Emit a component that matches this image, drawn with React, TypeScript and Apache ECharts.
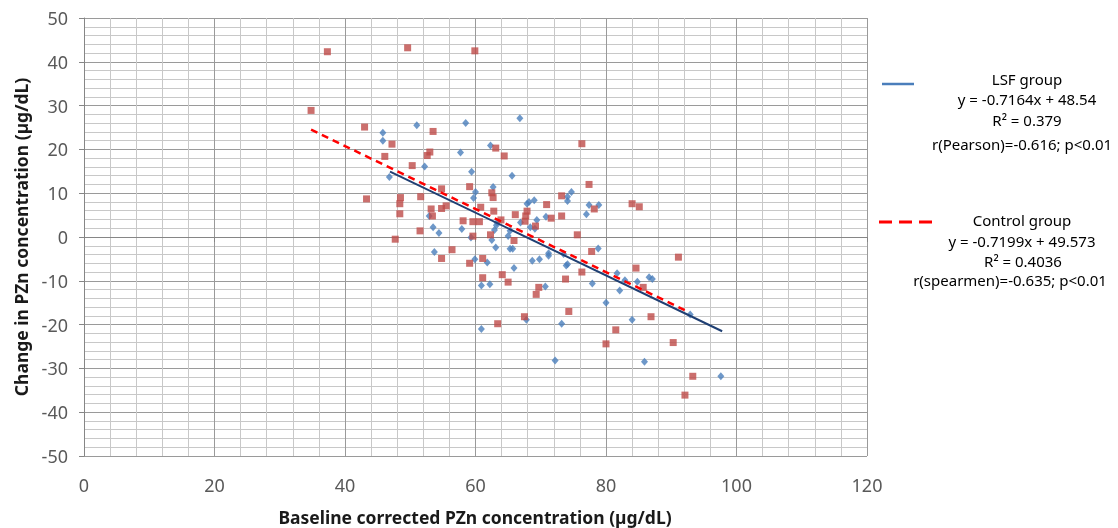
import React, { useEffect, useRef } from "react";
import * as echarts from "echarts";

// LSF group (blue diamonds): baseline PZn, change in PZn
const lsfX = [45.8, 45.8, 46.8, 51.0, 58.5, 66.8, 57.7, 62.3, 52.2, 59.4, 65.6, 62.7, 60.0, 59.7, 52.9, 63.3, 67.9, 68.2, 69.0, 74.7, 74.1, 74.1, 70.8, 69.4, 66.9, 68.4, 69.1, 53.5, 54.4, 57.9, 59.3, 62.5, 62.9, 63.2, 65.0, 65.3, 63.1, 65.3, 65.7, 53.7, 59.9, 61.8, 60.9, 62.2, 65.9, 68.7, 69.8, 71.2, 71.2, 70.7, 67.8, 60.9, 73.2, 72.2, 73.9, 74.1, 73.5, 77.4, 78.9, 77.0, 78.8, 77.9, 80.0, 81.7, 82.1, 82.9, 84.8, 86.6, 87.1, 92.9, 84.0, 85.9, 97.6];
const lsfY = [23.8, 22.0, 13.7, 25.5, 26.0, 27.1, 19.3, 20.9, 16.1, 14.9, 14.0, 11.4, 10.3, 8.9, 4.8, 3.3, 7.6, 8.0, 8.4, 10.3, 9.2, 8.2, 4.6, 3.9, 3.3, 2.2, 1.9, 2.2, 0.9, 1.8, -0.1, -0.7, 1.6, 2.7, 0.2, 1.4, -2.4, -2.7, -2.7, -3.4, -5.1, -5.8, -11.1, -10.8, -7.1, -5.4, -5.1, -4.3, -3.7, -11.3, -18.9, -21.0, -19.8, -28.2, -6.5, -6.2, -3.9, 7.3, 7.3, 5.2, -2.6, -10.6, -15.0, -8.3, -12.2, -9.9, -10.2, -9.2, -9.6, -17.7, -18.9, -28.5, -31.8];

// Control group (red squares)
const ctrlX = [34.8, 37.3, 43.0, 47.2, 46.1, 43.3, 47.7, 49.6, 59.9, 53.5, 63.1, 53.0, 52.6, 64.4, 50.3, 59.1, 54.8, 62.5, 62.7, 48.5, 48.4, 51.6, 48.4, 53.2, 54.8, 55.5, 53.4, 60.8, 62.8, 58.1, 59.6, 60.6, 63.9, 66.1, 67.9, 67.7, 67.6, 70.9, 73.2, 71.6, 73.2, 69.2, 75.6, 51.5, 59.6, 62.3, 65.9, 56.4, 54.8, 59.1, 61.1, 61.1, 64.1, 65.0, 69.7, 69.3, 67.5, 63.4, 74.3, 73.8, 76.3, 77.4, 78.2, 84.0, 85.1, 77.8, 76.3, 84.6, 85.7, 91.1, 86.9, 81.5, 80.0, 90.3, 93.3, 92.1];
const ctrlY = [28.9, 42.3, 25.1, 21.2, 18.4, 8.7, -0.5, 43.2, 42.5, 24.1, 20.3, 19.4, 18.6, 18.5, 16.3, 11.5, 11.0, 10.1, 9.0, 9.0, 7.6, 9.2, 5.3, 6.4, 6.5, 7.1, 4.8, 6.8, 5.9, 3.7, 3.5, 3.5, 3.9, 5.1, 5.9, 4.8, 3.6, 7.4, 9.4, 4.3, 4.8, 2.5, 0.5, 1.4, 0.2, 0.5, -0.8, -2.9, -4.9, -6.0, -4.9, -9.3, -8.6, -10.3, -11.5, -13.1, -18.2, -19.8, -17.0, -9.6, 21.3, 12.0, 6.4, 7.6, 6.9, -3.3, -8.0, -7.1, -11.5, -4.6, -18.2, -21.2, -24.4, -24.1, -31.8, -36.1];

// Trendlines (slope, intercept) and fitted x ranges
const lsfFit = [-0.7164, 48.54];
const lsfRange = [46.9, 97.8];
const ctrlFit = [-0.7199, 49.573];
const ctrlRange = [34.8, 92.1];

const xTicks = [0, 20, 40, 60, 80, 100, 120];
const yTicks = [-50, -40, -30, -20, -10, 0, 10, 20, 30, 40, 50];

const lsfLegend = ["LSF group", "y = -0.7164x + 48.54", "R² = 0.379", "r(Pearson)=-0.616; p<0.01"];
const ctrlLegend = ["Control group", "y = -0.7199x + 49.573", "R² = 0.4036", "r(spearmen)=-0.635; p<0.01"];

const FONT = "Noto Sans";

export default function App() {
  const ref = useRef<HTMLDivElement>(null);
  useEffect(() => {
    if (!ref.current) return;
    const chart = echarts.init(ref.current, null, { renderer: "svg" });
    const pts = (xs: number[], ys: number[]) => xs.map((x, i) => [x, ys[i]]);
    const fitLine = (f: number[], r: number[]) => r.map((x) => [x, f[0] * x + f[1]]);
    const legendText = (lines: string[], cx: number[], ys: number[]) =>
      lines.map((t, i) => ({
        type: "text",
        x: cx[i],
        y: ys[i],
        style: { text: t, fill: "#000", font: `15px "${FONT}"`, textAlign: "center", textVerticalAlign: "middle" },
      }));
    chart.setOption({
      animation: false,
      grid: { left: 84, right: 251, top: 18, bottom: 72 },
      xAxis: {
        type: "value",
        min: xTicks[0],
        max: xTicks[xTicks.length - 1],
        interval: 20,
        axisLine: { show: true, lineStyle: { color: "#868686", width: 1 } },
        axisTick: { show: true, length: 5, lineStyle: { color: "#868686" } },
        axisLabel: { color: "#595959", fontSize: 18, fontFamily: FONT, margin: 20 },
        splitLine: { show: true, lineStyle: { color: "#9A9A9A", width: 1 } },
        minorTick: { show: false, splitNumber: 5 },
        minorSplitLine: { show: true, lineStyle: { color: "#C8C8C8", width: 1 } },
      },
      yAxis: {
        type: "value",
        min: yTicks[0],
        max: yTicks[yTicks.length - 1],
        interval: 10,
        axisLine: { show: true, lineStyle: { color: "#868686", width: 1 } },
        axisTick: { show: true, length: 5, lineStyle: { color: "#868686" } },
        axisLabel: { color: "#595959", fontSize: 18, fontFamily: FONT, margin: 16 },
        splitLine: { show: true, lineStyle: { color: "#9A9A9A", width: 1 } },
        minorTick: { show: false, splitNumber: 5 },
        minorSplitLine: { show: true, lineStyle: { color: "#C8C8C8", width: 1 } },
      },
      series: [
        {
          type: "scatter",
          name: "LSF group",
          symbol: "diamond",
          symbolSize: [7, 8],
          itemStyle: { color: "#4A7EBB" },
          data: pts(lsfX, lsfY),
          z: 2,
        },
        {
          type: "scatter",
          name: "Control group",
          symbol: "rect",
          symbolSize: 7,
          itemStyle: { color: "#BE4B48" },
          data: pts(ctrlX, ctrlY),
          z: 3,
        },
        {
          type: "line",
          name: "LSF fit",
          data: fitLine(lsfFit, lsfRange),
          showSymbol: false,
          symbol: "none",
          lineStyle: { color: "#1F3F73", width: 2 },
          z: 4,
        },
        {
          type: "line",
          name: "Control fit",
          data: fitLine(ctrlFit, ctrlRange),
          showSymbol: false,
          symbol: "none",
          lineStyle: { color: "#FF0000", width: 2.5, type: [7, 5] },
          z: 5,
        },
      ],
      graphic: [
        {
          type: "text",
          x: 475,
          y: 517,
          style: {
            text: "Baseline corrected PZn concentration (µg/dL)",
            fill: "#1a1a1a",
            font: `bold 17.5px "${FONT}"`,
            textAlign: "center",
            textVerticalAlign: "middle",
          },
        },
        {
          type: "text",
          x: 21,
          y: 237,
          rotation: Math.PI / 2,
          style: {
            text: "Change in PZn concentration (µg/dL)",
            fill: "#1a1a1a",
            font: `bold 17.5px "${FONT}"`,
            textAlign: "center",
            textVerticalAlign: "middle",
          },
        },
        {
          type: "line",
          shape: { x1: 882, y1: 84, x2: 914, y2: 84 },
          style: { stroke: "#4A7EBB", lineWidth: 2.5 },
        },
        {
          type: "line",
          shape: { x1: 879, y1: 222, x2: 933, y2: 222 },
          style: { stroke: "#FF0000", lineWidth: 3, lineDash: [13, 7] },
        },
        ...legendText(lsfLegend, [1027, 1027, 1027, 1022], [79, 99, 120, 144]),
        ...legendText(ctrlLegend, [1022, 1022, 1023, 1010], [220, 241, 261, 280]),
      ],
    });
    return () => chart.dispose();
  }, []);
  return <div ref={ref} style={{ position: "fixed", left: 0, top: 0, width: 1118, height: 528 }} />;
}
